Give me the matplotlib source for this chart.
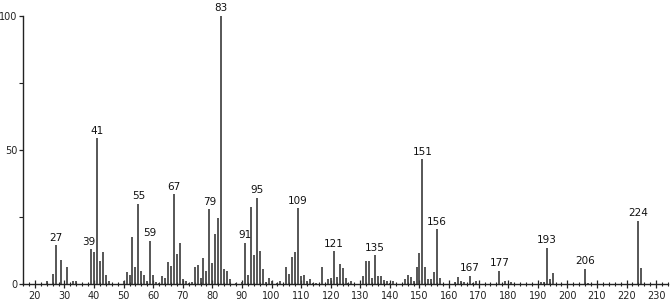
import matplotlib
matplotlib.use("Agg")
import matplotlib.pyplot as plt
from matplotlib.ticker import MultipleLocator

mz = [24, 26, 27, 29, 31, 33, 34, 39, 40, 41, 42, 43, 44, 45,
      50, 51, 52, 53, 54, 55, 56, 57, 58, 59, 60, 61, 62, 63, 64, 65, 66, 67, 68, 69, 70, 71, 72, 73,
      74, 75, 76, 77, 78, 79, 80, 81, 82, 83, 84, 85, 86, 88, 90,
      91, 92, 93, 94, 95, 96, 97, 98, 99, 100, 102, 103, 105, 106, 107, 108, 109, 110,
      111, 112, 113, 114, 115, 117, 119, 120, 121, 122, 123, 124, 125, 126, 127,
      131, 132, 133, 134, 135, 136, 137, 138, 139, 140, 141, 145, 146, 147, 148, 149, 150,
      151, 152, 153, 154, 155, 156, 157, 162, 163, 164, 165, 167, 168, 169,
      177, 179, 181, 191, 192, 193, 194, 195, 206, 207, 224, 225]
intensity = [1.0, 3.8, 14.4, 9.1, 6.5, 1.0, 1.0, 12.9, 12.1, 54.3, 8.5, 12.0, 3.2, 1.2,
             1.2, 4.4, 3.2, 17.7, 6.3, 30.0, 5.0, 3.5, 1.0, 16.2, 3.2, 0.7, 0.5, 3.0, 2.3, 8.1, 6.9, 33.4, 11.3, 15.2, 1.7, 1.0, 0.5, 0.7,
             6.3, 7.2, 2.3, 9.6, 4.8, 27.8, 7.9, 18.5, 24.7, 100.0, 5.7, 4.8, 1.7, 0.5, 0.7,
             15.3, 3.5, 28.6, 10.7, 32.2, 12.4, 5.7, 0.7, 2.2, 1.2, 0.4, 1.0, 6.5, 3.8, 10.0, 11.9, 28.2, 3.0,
             3.5, 1.0, 2.0, 0.5, 0.5, 6.3, 1.7, 2.2, 12.2, 2.6, 7.5, 5.9, 2.2, 0.5, 1.0,
             3.0, 8.5, 8.5, 2.2, 10.7, 3.0, 3.0, 1.5, 1.0, 0.5, 1.2, 1.8, 3.3, 2.7, 1.0, 6.3, 11.5,
             46.5, 6.5, 1.8, 1.8, 4.3, 20.4, 2.2, 0.6, 2.5, 1.0, 0.6, 3.0, 0.5, 1.2,
             5.0, 1.2, 0.8, 0.7, 0.9, 13.6, 2.0, 4.0, 5.6, 0.5, 23.6, 6.1]

labeled = [27, 39, 41, 55, 59, 67, 79, 83, 91, 95, 109, 121, 135, 151, 156, 167, 177, 193, 206, 224]
x_ticks = list(range(20, 231, 10))
y_ticks = [0, 50, 100]

fig = plt.figure(figsize=(6.72, 3.02), dpi=100)
ax = fig.add_axes([23/672, 18/302, (668-23)/672, (284-16)/302])

ax.vlines(mz, 0, intensity, colors="#3a3a3a", linewidth=1.2)

lookup = dict(zip(mz, intensity))
for m in labeled:
    dx = -0.6 if m == 39 else 0
    ax.text(m + dx, lookup[m] + 1.0, str(m), ha="center", va="bottom",
            fontsize=7.5, color="#111111", clip_on=False)

ax.set_xlim(16, 234)
ax.set_ylim(0, 100)
ax.set_xticks(x_ticks)
ax.xaxis.set_minor_locator(MultipleLocator(2))
ax.set_yticks(y_ticks)
ax.yaxis.set_minor_locator(MultipleLocator(25))

for s in ("top", "right"):
    ax.spines[s].set_visible(False)
for s in ("left", "bottom"):
    ax.spines[s].set_linewidth(1.0)
    ax.spines[s].set_color("#222222")

ax.tick_params(axis="x", which="major", direction="inout", length=6, width=0.9,
               labelsize=7, pad=2, colors="#222222")
ax.tick_params(axis="x", which="minor", direction="inout", length=3, width=0.8, colors="#222222")
ax.tick_params(axis="y", which="major", direction="out", length=3, width=0.9,
               labelsize=7, pad=1, colors="#222222")
ax.tick_params(axis="y", which="minor", direction="out", length=3, width=0.8, colors="#222222")

fig.savefig("out.png", dpi=100)
